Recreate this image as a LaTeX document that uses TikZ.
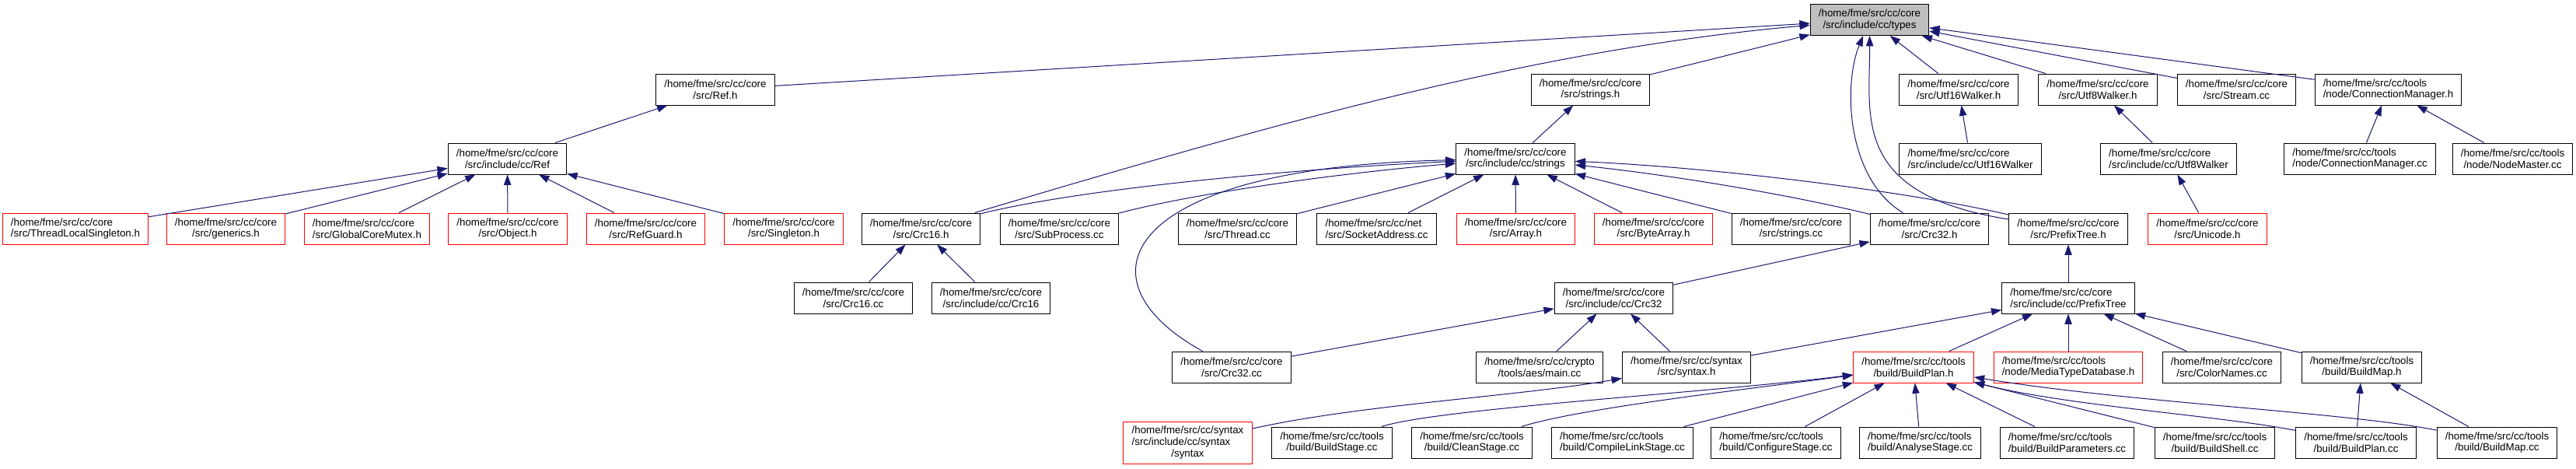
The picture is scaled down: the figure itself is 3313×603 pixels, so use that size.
\documentclass[tikz,border=0pt]{standalone}
\usepackage{fontspec}
\setmainfont{Liberation Sans}
\usepackage{tikz}
\usepackage{xcolor}
\usetikzlibrary{arrows.meta}
\definecolor{edgeblue}{HTML}{191970}
\definecolor{mainfill}{HTML}{BFBFBF}

\begin{document}
\begin{tikzpicture}[x=0.75pt,y=-0.75pt,every node/.style={font=\fontsize{10}{11}\selectfont},
  file/.style={draw=black,line width=0.75pt,fill=white,minimum height=30pt,inner xsep=8pt,inner ysep=2pt,align=center},
  wide/.style={file,align=left},
  trunc/.style={draw=red},
  dep/.style={edgeblue,line width=0.75pt,-{Triangle[length=10pt,width=7pt]}}]
\fill[white] (0,0) rectangle (3313,603);
% top
\node[file,fill=mainfill] (types) at (2404.5,25.5) {/home/fme/src/cc/core\\/src/include/cc/types};
% row 1
\node[file] (refh) at (920,115) {/home/fme/src/cc/core\\/src/Ref.h};
\node[file] (stringsh) at (2045.5,115) {/home/fme/src/cc/core\\/src/strings.h};
\node[file] (utfsixteenh) at (2519,115) {/home/fme/src/cc/core\\/src/Utf16Walker.h};
\node[file] (utfeighth) at (2698,115) {/home/fme/src/cc/core\\/src/Utf8Walker.h};
\node[file] (streamcc) at (2876.5,115) {/home/fme/src/cc/core\\/src/Stream.cc};
\node[wide] (connmgrh) at (3071.5,115) {/home/fme/src/cc/tools\\/node/ConnectionManager.h};
% row 2
\node[file] (incref) at (652.5,204) {/home/fme/src/cc/core\\/src/include/cc/Ref};
\node[file] (incstrings) at (1949,204) {/home/fme/src/cc/core\\/src/include/cc/strings};
\node[wide] (incutfsixteen) at (2534,204) {/home/fme/src/cc/core\\/src/include/cc/Utf16Walker};
\node[wide] (incutfeight) at (2789,204) {/home/fme/src/cc/core\\/src/include/cc/Utf8Walker};
\node[wide] (connmgrcc) at (3035,204) {/home/fme/src/cc/tools\\/node/ConnectionManager.cc};
\node[file] (nodemastercc) at (3231.5,204) {/home/fme/src/cc/tools\\/node/NodeMaster.cc};
% row 3
\node[wide,trunc] (tlsingleton) at (97,294) {/home/fme/src/cc/core\\/src/ThreadLocalSingleton.h};
\node[file,trunc] (genericsh) at (290.5,294) {/home/fme/src/cc/core\\/src/generics.h};
\node[wide,trunc] (globalmutexh) at (472,294) {/home/fme/src/cc/core\\/src/GlobalCoreMutex.h};
\node[file,trunc] (objecth) at (653,294) {/home/fme/src/cc/core\\/src/Object.h};
\node[file,trunc] (refguardh) at (830.5,294) {/home/fme/src/cc/core\\/src/RefGuard.h};
\node[file,trunc] (singletonh) at (1008,294) {/home/fme/src/cc/core\\/src/Singleton.h};
\node[file] (crcsixteenh) at (1184.5,294) {/home/fme/src/cc/core\\/src/Crc16.h};
\node[file] (subprocesscc) at (1362.5,294) {/home/fme/src/cc/core\\/src/SubProcess.cc};
\node[file] (threadcc) at (1591.5,294) {/home/fme/src/cc/core\\/src/Thread.cc};
\node[wide] (socketaddrcc) at (1770.5,294) {/home/fme/src/cc/net\\/src/SocketAddress.cc};
\node[file,trunc] (arrayh) at (1949.5,294) {/home/fme/src/cc/core\\/src/Array.h};
\node[file,trunc] (bytearrayh) at (2126.5,294) {/home/fme/src/cc/core\\/src/ByteArray.h};
\node[file] (stringscc) at (2303.5,294) {/home/fme/src/cc/core\\/src/strings.cc};
\node[file] (crcthirtytwoh) at (2481.5,294) {/home/fme/src/cc/core\\/src/Crc32.h};
\node[file] (prefixtreeh) at (2660,294) {/home/fme/src/cc/core\\/src/PrefixTree.h};
\node[file,trunc] (unicodeh) at (2839,294) {/home/fme/src/cc/core\\/src/Unicode.h};
% row 4
\node[file] (crcsixteencc) at (1097.5,383) {/home/fme/src/cc/core\\/src/Crc16.cc};
\node[file] (inccrcsixteen) at (1274.5,383) {/home/fme/src/cc/core\\/src/include/cc/Crc16};
\node[file] (inccrcthirtytwo) at (2075.5,383) {/home/fme/src/cc/core\\/src/include/cc/Crc32};
\node[wide] (incprefixtree) at (2660,383) {/home/fme/src/cc/core\\/src/include/cc/PrefixTree};
% row 5
\node[file] (crcthirtytwocc) at (1584,472) {/home/fme/src/cc/core\\/src/Crc32.cc};
\node[file] (aesmaincc) at (1980,472) {/home/fme/src/cc/crypto\\/tools/aes/main.cc};
\node[file] (syntaxh) at (2169,472) {/home/fme/src/cc/syntax\\/src/syntax.h};
\node[file,trunc] (buildplanh) at (2461,472) {/home/fme/src/cc/tools\\/build/BuildPlan.h};
\node[wide,trunc] (mediatypeh) at (2660,472) {/home/fme/src/cc/tools\\/node/MediaTypeDatabase.h};
\node[file] (colornamescc) at (2857.5,472) {/home/fme/src/cc/core\\/src/ColorNames.cc};
\node[file] (buildmaph) at (3037.5,472) {/home/fme/src/cc/tools\\/build/BuildMap.h};
% row 6
\node[file,trunc,minimum height=41pt] (syntaxsyntax) at (1527.5,569.5) {\begin{tabular}{@{}l@{}}/home/fme/src/cc/syntax\\/src/include/cc/syntax\\\multicolumn{1}{@{}c@{}}{/syntax}\end{tabular}};
\node[file] (buildstagecc) at (1713,569) {/home/fme/src/cc/tools\\/build/BuildStage.cc};
\node[file] (cleanstagecc) at (1893,569) {/home/fme/src/cc/tools\\/build/CleanStage.cc};
\node[wide] (compilelinkcc) at (2086.5,569) {/home/fme/src/cc/tools\\/build/CompileLinkStage.cc};
\node[wide] (configurecc) at (2284,569) {/home/fme/src/cc/tools\\/build/ConfigureStage.cc};
\node[wide] (analysecc) at (2469.5,569) {/home/fme/src/cc/tools\\/build/AnalyseStage.cc};
\node[wide] (buildparamscc) at (2658.5,569) {/home/fme/src/cc/tools\\/build/BuildParameters.cc};
\node[file] (buildshellcc) at (2848.5,569) {/home/fme/src/cc/tools\\/build/BuildShell.cc};
\node[file] (buildplancc) at (3030,569) {/home/fme/src/cc/tools\\/build/BuildPlan.cc};
\node[file] (buildmapcc) at (3211.5,569) {/home/fme/src/cc/tools\\/build/BuildMap.cc};
% into types
\draw[dep] (refh) -- (types);
\draw[dep] (stringsh) -- (types);
\draw[dep] (crcsixteenh) .. controls (1620,165) and (1960,65) .. (types);
\draw[dep] (utfsixteenh) -- (types);
\draw[dep] (utfeighth) -- (types);
\draw[dep] (streamcc) -- (types);
\draw[dep] (connmgrh) -- (types);
\draw[dep] (crcthirtytwoh) .. controls (2375,230) and (2370,110) .. (types);
\draw[dep] (prefixtreeh) .. controls (2380,250) and (2405,150) .. (types);
% Ref
\draw[dep] (incref) -- (refh);
\draw[dep] (tlsingleton) -- (incref);
\draw[dep] (genericsh) -- (incref);
\draw[dep] (globalmutexh) -- (incref);
\draw[dep] (objecth) -- (incref);
\draw[dep] (refguardh) -- (incref);
\draw[dep] (singletonh) -- (incref);
% strings
\draw[dep] (incstrings) -- (stringsh);
\draw[dep] (crcsixteenh) .. controls (1400,240) and (1700,215) .. (incstrings);
\draw[dep] (subprocesscc) .. controls (1550,245) and (1750,220) .. (incstrings);
\draw[dep] (threadcc) -- (incstrings);
\draw[dep] (socketaddrcc) -- (incstrings);
\draw[dep] (arrayh) -- (incstrings);
\draw[dep] (bytearrayh) -- (incstrings);
\draw[dep] (stringscc) -- (incstrings);
\draw[dep] (crcthirtytwoh) .. controls (2300,250) and (2150,225) .. (incstrings);
\draw[dep] (prefixtreeh) .. controls (2450,245) and (2200,215) .. (incstrings);
\draw[dep] (crcthirtytwocc) .. controls (1380,360) and (1440,215) .. (incstrings);
% walkers, node
\draw[dep] (incutfsixteen) -- (utfsixteenh);
\draw[dep] (incutfeight) -- (utfeighth);
\draw[dep] (unicodeh) -- (incutfeight);
\draw[dep] (connmgrcc) -- (connmgrh);
\draw[dep] (nodemastercc) -- (connmgrh);
% crc
\draw[dep] (crcsixteencc) -- (crcsixteenh);
\draw[dep] (inccrcsixteen) -- (crcsixteenh);
\draw[dep] (inccrcthirtytwo) -- (crcthirtytwoh);
\draw[dep] (crcthirtytwocc) -- (inccrcthirtytwo);
\draw[dep] (aesmaincc) -- (inccrcthirtytwo);
\draw[dep] (syntaxh) -- (inccrcthirtytwo);
% prefix tree
\draw[dep] (incprefixtree) -- (prefixtreeh);
\draw[dep] (syntaxh) -- (incprefixtree);
\draw[dep] (buildplanh) -- (incprefixtree);
\draw[dep] (mediatypeh) -- (incprefixtree);
\draw[dep] (colornamescc) -- (incprefixtree);
\draw[dep] (buildmaph) -- (incprefixtree);
\draw[dep] (syntaxsyntax) .. controls (1750,520) and (1950,510) .. (syntaxh);
% build
\draw[dep] (buildstagecc) .. controls (1850,525) and (2200,505) .. (buildplanh);
\draw[dep] (cleanstagecc) .. controls (2030,525) and (2250,500) .. (buildplanh);
\draw[dep] (compilelinkcc) -- (buildplanh);
\draw[dep] (configurecc) -- (buildplanh);
\draw[dep] (analysecc) -- (buildplanh);
\draw[dep] (buildparamscc) -- (buildplanh);
\draw[dep] (buildshellcc) -- (buildplanh);
\draw[dep] (buildplancc) .. controls (2860,535) and (2660,522) .. (buildplanh);
\draw[dep] (buildmapcc) .. controls (3020,530) and (2740,518) .. (buildplanh);
\draw[dep] (buildplancc) -- (buildmaph);
\draw[dep] (buildmapcc) -- (buildmaph);
\end{tikzpicture}
\end{document}
